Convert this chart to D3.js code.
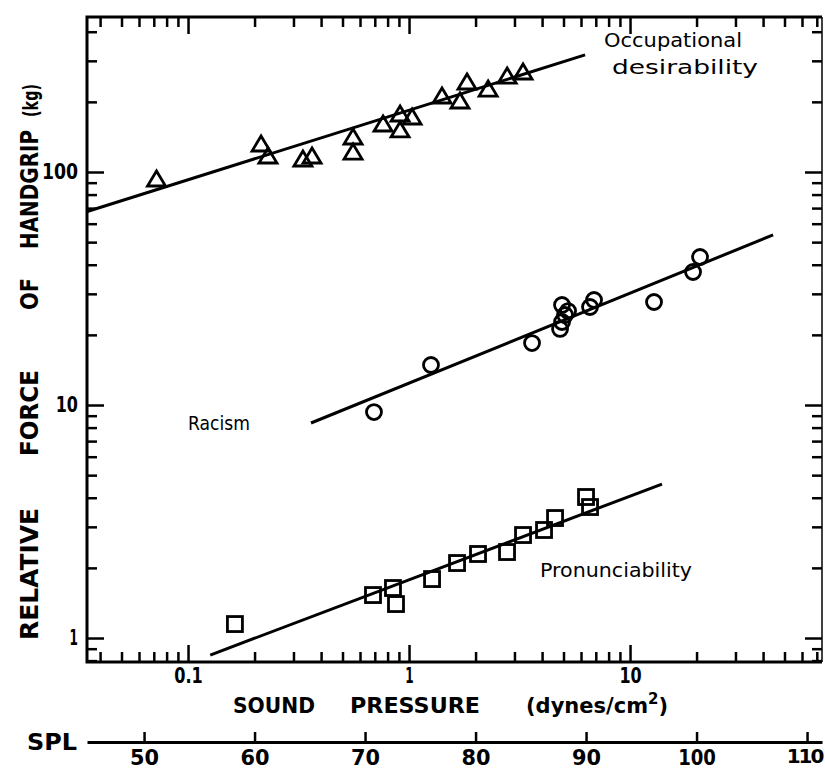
<!DOCTYPE html>
<html><head><meta charset="utf-8">
<script src="https://cdn.jsdelivr.net/npm/d3@7/dist/d3.min.js"></script>
<style>
body{margin:0;background:#fff}
svg{display:block}
text{font-family:"DejaVu Sans",sans-serif;fill:#000}
</style>
</head><body>
<svg id="chart" width="825" height="772"></svg>
<script>
// ---------------- data ----------------
const occupationalP = [0.072,0.214,0.230,0.331,0.364,0.558,0.558,0.763,0.911,0.911,1.032,1.41,1.70,1.83,2.28,2.78,3.28];
const occupationalF = [92.4,130.6,116,112.6,116,139.9,120.6,159.1,175.6,150,170.5,209.8,199.7,241,224.8,255.6,266];
const racismP = [0.694,1.257,3.602,4.824,4.924,5.080,5.244,4.924,6.592,6.873,12.84,19.28,20.74];
const racismF = [9.33,14.85,18.45,21.20,22.71,24.34,25.31,26.87,26.34,28.22,27.67,37.22,43.17];
const pronP = [0.163,0.687,0.846,0.873,1.271,1.649,2.052,2.776,3.280,4.082,4.578,6.322,6.592];
const pronF = [1.148,1.529,1.639,1.399,1.791,2.098,2.294,2.339,2.767,2.908,3.273,4.029,3.649];
// fitted lines (end points)
const occLineP = [0.035, 6.26],  occLineF = [67.7, 318];
const racLineP = [0.360, 44.4],  racLineF = [8.37, 53.7];
const pronLineP = [0.126, 13.95], pronLineF = [0.845, 4.58];
// ticks
const xMajor = [0.1, 1, 10];
const xMinor = [0.04,0.05,0.06,0.07,0.08,0.09,0.2,0.3,0.4,0.5,0.6,0.7,0.8,0.9,2,3,4,5,6,7,8,9,20,30,40,50,60,70];
const yMajor = [1, 10, 100];
const yMinor = [0.8,0.9,2,3,4,5,6,7,8,9,20,30,40,50,60,70,80,90,200,300,400];
const splTicks = [50,60,70,80,90,100,110];
const xDomain = [0.0349, 73.9];
const yDomain = [0.789, 462.6];

// ---------------- layout ----------------
const L = 87, R = 822, T = 17, B = 662;
const svg = d3.select("#chart");
const x = d3.scaleLog().domain(xDomain).range([L, R]);
const y = d3.scaleLog().domain(yDomain).range([B, T]);
// SPL (dB re 0.0002 dyn/cm2) = 20 log10(p) + 74
const spl = d3.scaleLinear().domain(xDomain.map(p => 20*Math.log10(p) + 73.98)).range([L, R]);

// plotter-style lettering: narrow "1", narrow "."
function labelWidth(s, fs){
  let w = 0;
  for(const c of s) w += (c==='1' ? 0.40 : c==='.' ? 0.30 : 0.66);
  return w*fs;
}
function styleAxis(g, fs){
  g.select(".domain").remove();
  g.selectAll(".tick line").attr("stroke","#000").attr("stroke-width",2.5);
  g.selectAll(".tick text").attr("font-size",fs).attr("font-family","DejaVu Sans").attr("font-weight","bold").attr("fill","#000")
    .each(function(){ const s=this.textContent; if(s) d3.select(this).attr("textLength",labelWidth(s,fs)).attr("lengthAdjust","spacingAndGlyphs"); });
}
// bottom
svg.append("g").attr("transform",`translate(0,${B})`)
  .call(d3.axisBottom(x).tickValues(xMinor).tickSize(-10).tickFormat(""))
  .call(g=>styleAxis(g,20));
svg.append("g").attr("transform",`translate(0,${B})`)
  .call(d3.axisBottom(x).tickValues(xMajor).tickSize(-17).tickPadding(6).tickFormat(d=>String(d)))
  .call(g=>styleAxis(g,21));
// top
svg.append("g").attr("transform",`translate(0,${T})`)
  .call(d3.axisTop(x).tickValues(xMinor).tickSize(-10).tickFormat(""))
  .call(g=>styleAxis(g,20));
svg.append("g").attr("transform",`translate(0,${T})`)
  .call(d3.axisTop(x).tickValues(xMajor).tickSize(-17).tickFormat(""))
  .call(g=>styleAxis(g,20));
// left
svg.append("g").attr("transform",`translate(${L},0)`)
  .call(d3.axisLeft(y).tickValues(yMinor).tickSize(-10).tickFormat(""))
  .call(g=>styleAxis(g,20));
svg.append("g").attr("transform",`translate(${L},0)`)
  .call(d3.axisLeft(y).tickValues(yMajor).tickSize(-17).tickPadding(9).tickFormat(d=>String(d)))
  .call(g=>styleAxis(g,21));
// right
svg.append("g").attr("transform",`translate(${R},0)`)
  .call(d3.axisRight(y).tickValues(yMinor).tickSize(-10).tickFormat(""))
  .call(g=>styleAxis(g,20));
svg.append("g").attr("transform",`translate(${R},0)`)
  .call(d3.axisRight(y).tickValues(yMajor).tickSize(-17).tickFormat(""))
  .call(g=>styleAxis(g,20));

// frame
svg.append("path").attr("d",`M${R},${T}H${L}V${B}H${R}`).attr("fill","none").attr("stroke","#000").attr("stroke-width",3);
svg.append("path").attr("d",`M${R},${T}V${B}`).attr("fill","none").attr("stroke","#000").attr("stroke-width",1.5);

// SPL axis
const splG = svg.append("g").attr("transform","translate(0,742)")
  .call(d3.axisBottom(spl).tickValues(splTicks).tickSize(-10).tickSizeOuter(0).tickPadding(7).tickFormat(d=>String(d)));
splG.selectAll(".tick line").attr("stroke","#000").attr("stroke-width",2.5);
splG.selectAll(".tick text").attr("font-size",22).attr("font-family","DejaVu Sans").attr("font-weight","bold").attr("fill","#000")
  .each(function(d,i,nodes){
    const t = d3.select(this);
    if(i===nodes.length-1){
      // last label sits at the page edge: tighten spacing slightly instead of stretching
      t.attr("x",-3).attr("letter-spacing","-2px").attr("font-size",20);
    } else {
      t.attr("textLength",labelWidth(this.textContent,22)).attr("lengthAdjust","spacingAndGlyphs");
    }
  });
splG.select(".domain").attr("stroke","#000").attr("stroke-width",3);
svg.append("text").attr("x",27).attr("y",750).attr("font-size",23).attr("font-weight","bold").attr("textLength",50).attr("lengthAdjust","spacingAndGlyphs").text("SPL");

// fitted lines
const line = d3.line().x(d=>x(d[0])).y(d=>y(d[1]));
[[occLineP,occLineF],[racLineP,racLineF],[pronLineP,pronLineF]].forEach(([P,F])=>{
  svg.append("path").datum(P.map((p,i)=>[p,F[i]])).attr("d",line)
    .attr("fill","none").attr("stroke","#000").attr("stroke-width",3);
});

// markers
const sw = 2.8;
svg.append("g").selectAll("path").data(occupationalP.map((p,i)=>[p,occupationalF[i]])).join("path")
  .attr("d",d=>`M${x(d[0])},${y(d[1])-9}l9,15h-18z`)
  .attr("fill","none").attr("stroke","#000").attr("stroke-width",sw).attr("stroke-linejoin","miter");
svg.append("g").selectAll("circle").data(racismP.map((p,i)=>[p,racismF[i]])).join("circle")
  .attr("cx",d=>x(d[0])).attr("cy",d=>y(d[1])).attr("r",7.5)
  .attr("fill","none").attr("stroke","#000").attr("stroke-width",sw);
svg.append("g").selectAll("rect").data(pronP.map((p,i)=>[p,pronF[i]])).join("rect")
  .attr("x",d=>x(d[0])-7.5).attr("y",d=>y(d[1])-7.5).attr("width",15).attr("height",15)
  .attr("fill","none").attr("stroke","#000").attr("stroke-width",sw);

// annotations
function txt(s, xx, yy, fs, len, bold){
  const t = svg.append("text").attr("x",xx).attr("y",yy).attr("font-size",fs).text(s);
  if(len) t.attr("textLength",len).attr("lengthAdjust","spacingAndGlyphs");
  if(bold) t.attr("font-weight","bold");
  return t;
}
txt("Occupational",604,47,20,138);
txt("desirability",612,74,20,146);
txt("Racism",188,430,19,62);
txt("Pronunciability",540,577,20,152);

// x title
txt("SOUND",233,713,22,82,true);
txt("PRESSURE",350,713,22,130,true);
const dyn = svg.append("text").attr("x",526).attr("y",713).attr("font-size",21).attr("font-weight","bold");
dyn.append("tspan").text("(dynes/cm");
dyn.append("tspan").attr("font-size",15).attr("dy",-9).text("2");
dyn.append("tspan").attr("dy",9).text(")");

// y title, word by word (rotated)
const yWords = [["RELATIVE",640,508],["FORCE",456,370],["OF",310,278],["HANDGRIP",249,130],["(kg)",117,84]];
yWords.forEach(([w,b,t])=>{
  svg.append("text").attr("transform",`translate(38,${b}) rotate(-90)`).attr("font-size",w==="(kg)"?22:24)
    .attr("font-weight","bold")
    .attr("textLength",b-t).attr("lengthAdjust","spacingAndGlyphs").text(w);
});
</script>
</body></html>
